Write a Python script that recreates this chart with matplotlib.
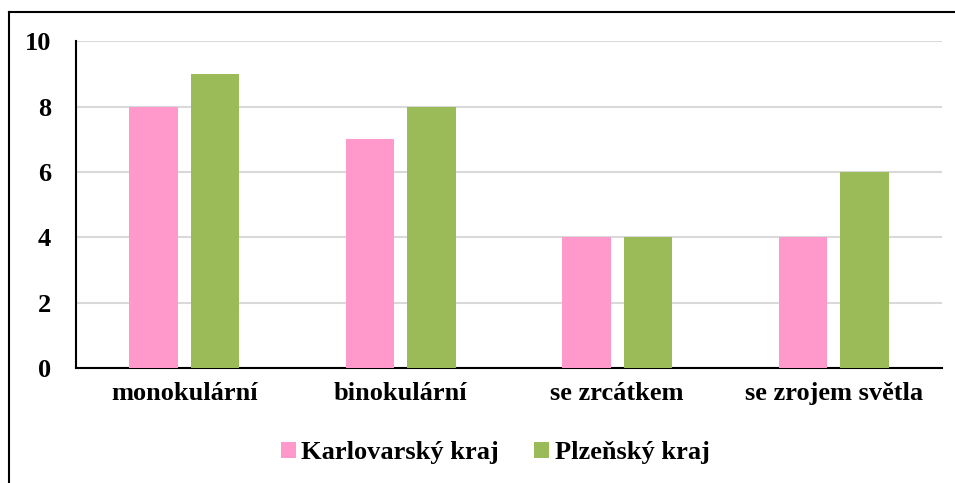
import matplotlib
matplotlib.use("Agg")
import matplotlib.pyplot as plt
import numpy as np
from matplotlib.lines import Line2D

categories = ["monokulární", "binokulární", "se zrcátkem", "se zrojem světla"]
series_names = ["Karlovarský kraj", "Plzeňský kraj"]
karlovarsky = [8, 7, 4, 4]
plzensky = [9, 8, 4, 6]
yticks = [0, 2, 4, 6, 8, 10]

colors = ["#FF99CC", "#9BBB59"]

plt.rcParams['font.family'] = ['Liberation Serif', 'DejaVu Serif']
plt.rcParams['font.weight'] = 'bold'

fig = plt.figure(figsize=(9.55, 4.83), dpi=100)
ax = fig.add_axes([76/955, 1-368/483, (942-76)/955, (368-41.3)/483])

x = np.arange(len(categories))
w = 0.224
off = 0.141
ax.bar(x - off, karlovarsky, width=w, color=colors[0], label=series_names[0], zorder=3)
ax.bar(x + off, plzensky, width=w, color=colors[1], label=series_names[1], zorder=3)

ax.set_xlim(-0.5, len(categories) - 0.5)
ax.set_ylim(0, 10)
ax.set_yticks(yticks)
ax.set_yticklabels([str(v) for v in yticks], fontsize=19, fontweight='bold')
ax.set_xticks(x)
ax.set_xticklabels(categories, fontsize=19, fontweight='bold')
ax.tick_params(axis='both', length=0)
ax.tick_params(axis='y', pad=18)
ax.tick_params(axis='x', pad=10)
ax.yaxis.grid(True, color='#D9D9D9', linewidth=1.5, zorder=0)
ax.set_axisbelow(True)
for s in ['top', 'right']:
    ax.spines[s].set_visible(False)
ax.spines['left'].set_linewidth(1.5)
ax.spines['bottom'].set_linewidth(1.5)

leg = fig.legend(loc='center', bbox_to_anchor=(495/955, 1-453/483), ncol=2,
                 frameon=False, prop={'size': 19, 'weight': 'bold'},
                 handlelength=0.57, handleheight=0.57, handletextpad=0.2,
                 columnspacing=1.35)

# figure border (top and left only)
fig.add_artist(Line2D([9/955, 9/955], [0, 1-12/483], transform=fig.transFigure, color='black', linewidth=1.5))
fig.add_artist(Line2D([9/955, 1], [1-12/483, 1-12/483], transform=fig.transFigure, color='black', linewidth=1.5))

fig.savefig("out.png", dpi=100)
